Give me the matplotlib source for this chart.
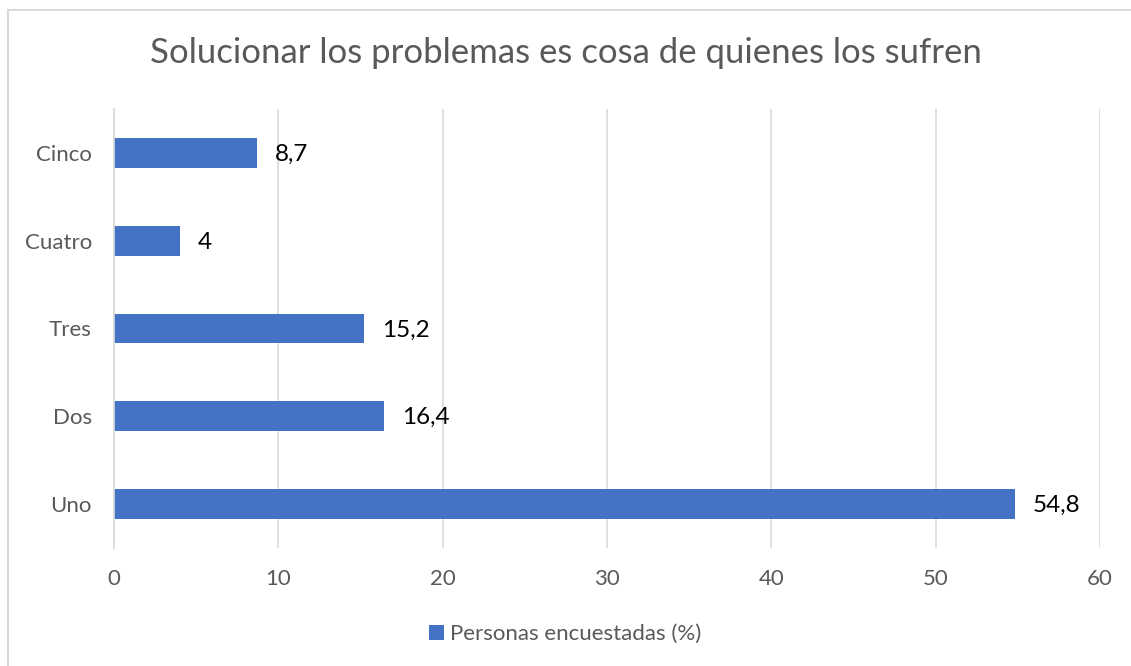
import matplotlib
matplotlib.use("Agg")
import matplotlib.pyplot as plt
from matplotlib.lines import Line2D

categories = ["Uno", "Dos", "Tres", "Cuatro", "Cinco"]
values = [54.8, 16.4, 15.2, 4, 8.7]
labels = ["54,8", "16,4", "15,2", "4", "8,7"]
xticks = [0, 10, 20, 30, 40, 50, 60]
series_name = "Personas encuestadas (%)"
title = "Solucionar los problemas es cosa de quienes los sufren"

plt.rcParams['font.family'] = ['Lato', 'DejaVu Sans']
gray = "#595959"
bar_color = "#4472C4"

fig = plt.figure(figsize=(11.31, 6.66), dpi=100)
ax = fig.add_axes([114/1131, 1-548/666, (1100-114)/1131, (548-109)/666])

ypos = list(range(len(categories)))
bars = ax.barh(ypos, values, height=0.34, color=bar_color, label=series_name, zorder=3)
for b, lab in zip(bars, labels):
    ax.annotate(lab, (b.get_width(), b.get_y() + b.get_height()/2),
                xytext=(13, -1), textcoords="offset points", va="center", ha="left",
                fontsize=17.5, color="black")

ax.set_xlim(0, 60)
ax.set_ylim(-0.5, len(categories) - 0.5)
ax.set_yticks(ypos)
ax.set_yticklabels(categories)
ax.set_xticks(xticks)
ax.set_xticklabels([str(t) for t in xticks])
ax.tick_params(axis="both", length=0, labelsize=16, colors=gray)
ax.tick_params(axis="x", pad=15)
ax.tick_params(axis="y", pad=16)
ax.grid(axis="x", color="#D9D9D9", linewidth=1.2, zorder=0)
for s in ["top", "right", "bottom"]:
    ax.spines[s].set_visible(False)
ax.spines["left"].set_color("#D9D9D9")
ax.spines["left"].set_linewidth(1.2)
ax.spines["left"].set_zorder(4)

fig.text(0.5, 1-53/666, title, ha="center", va="center", fontsize=25, color=gray)

handles, lbls = ax.get_legend_handles_labels()
fig.legend(handles, lbls, loc="center", bbox_to_anchor=(0.5, 1-634/666), frameon=False,
           fontsize=16, labelcolor=gray, handlelength=0.65, handleheight=0.65, handletextpad=0.3)

# chart frame (top and left edges visible; right/bottom are cropped in the reference)
fig.add_artist(Line2D([8/1131, 1], [1-10/666, 1-10/666], transform=fig.transFigure,
                      color="#D9D9D9", linewidth=1.5))
fig.add_artist(Line2D([8/1131, 8/1131], [0, 1-10/666], transform=fig.transFigure,
                      color="#D9D9D9", linewidth=1.5))

fig.savefig("out.png", dpi=100)
